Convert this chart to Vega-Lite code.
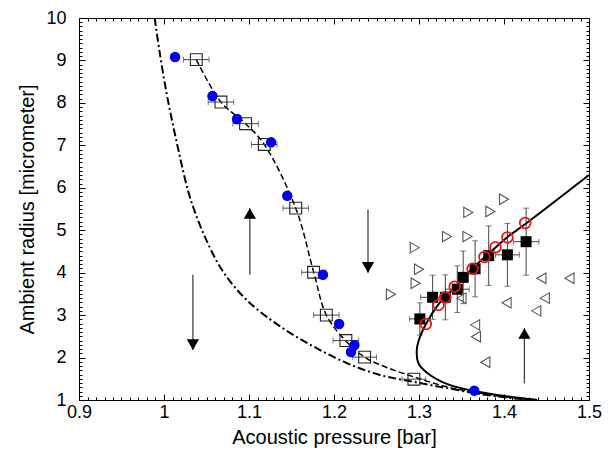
{
  "$schema": "https://vega.github.io/schema/vega-lite/v6.json",
  "width": 510,
  "height": 382,
  "autosize": "none",
  "padding": {"left": 79, "top": 18, "right": 25, "bottom": 55},
  "background": "white",
  "config": {
    "font": "Liberation Sans",
    "view": {"stroke": "black", "strokeWidth": 1},
    "axis": {"labelColor": "black", "titleColor": "black", "tickColor": "black", "grid": false, "domain": false, "labelFlush": false, "labelOverlap": false, "titleFontWeight": "normal", "labelFont": "Liberation Sans", "titleFont": "Liberation Sans"}
  },
  "datasets": {
    "dashdot": [
      {"i": 0, "x": 0.989, "y": 10.0}, {"i": 1, "x": 0.995, "y": 9.18}, {"i": 2, "x": 1.003, "y": 8.23},
      {"i": 3, "x": 1.011, "y": 7.44}, {"i": 4, "x": 1.0195, "y": 6.66}, {"i": 5, "x": 1.028, "y": 5.95},
      {"i": 6, "x": 1.036, "y": 5.45}, {"i": 7, "x": 1.048, "y": 4.85}, {"i": 8, "x": 1.068, "y": 4.07},
      {"i": 9, "x": 1.097, "y": 3.36}, {"i": 10, "x": 1.137, "y": 2.73}, {"i": 11, "x": 1.176, "y": 2.26},
      {"i": 12, "x": 1.215, "y": 1.87}, {"i": 13, "x": 1.254, "y": 1.59}, {"i": 14, "x": 1.293, "y": 1.43},
      {"i": 15, "x": 1.333, "y": 1.28}, {"i": 16, "x": 1.372, "y": 1.14}, {"i": 17, "x": 1.411, "y": 1.04},
      {"i": 18, "x": 1.439, "y": 1.0}
    ],
    "dashed": [
      {"i": 0, "x": 1.038, "y": 9.02}, {"i": 1, "x": 1.067, "y": 8.02}, {"i": 2, "x": 1.096, "y": 7.51},
      {"i": 3, "x": 1.118, "y": 7.02}, {"i": 4, "x": 1.155, "y": 5.52}, {"i": 5, "x": 1.176, "y": 4.02},
      {"i": 6, "x": 1.191, "y": 3.0}, {"i": 7, "x": 1.213, "y": 2.41}, {"i": 8, "x": 1.235, "y": 2.02},
      {"i": 9, "x": 1.254, "y": 1.83}, {"i": 10, "x": 1.293, "y": 1.55}, {"i": 11, "x": 1.333, "y": 1.31},
      {"i": 12, "x": 1.372, "y": 1.16}, {"i": 13, "x": 1.411, "y": 1.05}, {"i": 14, "x": 1.439, "y": 1.0}
    ],
    "solid": [
      {"i": 0, "x": 1.5, "y": 6.3}, {"i": 1, "x": 1.4267, "y": 5.17}, {"i": 2, "x": 1.4035, "y": 4.83},
      {"i": 3, "x": 1.3894, "y": 4.58}, {"i": 4, "x": 1.3635, "y": 4.11}, {"i": 5, "x": 1.3424, "y": 3.66},
      {"i": 6, "x": 1.3306, "y": 3.43}, {"i": 7, "x": 1.3224, "y": 3.24}, {"i": 8, "x": 1.309, "y": 2.82},
      {"i": 9, "x": 1.3012, "y": 2.49}, {"i": 10, "x": 1.2975, "y": 2.2}, {"i": 11, "x": 1.2992, "y": 1.87},
      {"i": 12, "x": 1.309, "y": 1.65}, {"i": 13, "x": 1.3326, "y": 1.38}, {"i": 14, "x": 1.3647, "y": 1.21},
      {"i": 15, "x": 1.3914, "y": 1.12}, {"i": 16, "x": 1.4385, "y": 1.0}
    ],
    "blue": [
      {"x": 1.013, "y": 9.08}, {"x": 1.057, "y": 8.16}, {"x": 1.086, "y": 7.62}, {"x": 1.126, "y": 7.07},
      {"x": 1.145, "y": 5.81}, {"x": 1.187, "y": 3.95}, {"x": 1.206, "y": 2.79}, {"x": 1.224, "y": 2.29},
      {"x": 1.22, "y": 2.13}, {"x": 1.365, "y": 1.22}
    ],
    "opensq": [
      {"x": 1.038, "y": 9.02, "xerr": 0.015}, {"x": 1.067, "y": 8.02, "xerr": 0.015}, {"x": 1.096, "y": 7.51, "xerr": 0.015},
      {"x": 1.118, "y": 7.02, "xerr": 0.015}, {"x": 1.155, "y": 5.52, "xerr": 0.015}, {"x": 1.176, "y": 4.01, "xerr": 0.014},
      {"x": 1.191, "y": 3.0, "xerr": 0.015}, {"x": 1.214, "y": 2.4, "xerr": 0.015}, {"x": 1.236, "y": 2.01, "xerr": 0.014},
      {"x": 1.294, "y": 1.49, "xerr": 0.014}
    ],
    "blacksq": [
      {"x": 1.301, "y": 2.91, "xerr": 0.012, "yerr": 0.38}, {"x": 1.316, "y": 3.42, "xerr": 0.014, "yerr": 0.52},
      {"x": 1.331, "y": 3.42, "xerr": 0, "yerr": 0.53}, {"x": 1.345, "y": 3.61, "xerr": 0.014, "yerr": 0.55},
      {"x": 1.352, "y": 3.89, "xerr": 0, "yerr": 0.62}, {"x": 1.366, "y": 4.09, "xerr": 0, "yerr": 0.66},
      {"x": 1.382, "y": 4.4, "xerr": 0, "yerr": 0.7}, {"x": 1.404, "y": 4.42, "xerr": 0.014, "yerr": 0.74},
      {"x": 1.426, "y": 4.73, "xerr": 0.015, "yerr": 0.79}
    ],
    "red": [
      {"x": 1.308, "y": 2.79}, {"x": 1.323, "y": 3.24}, {"x": 1.331, "y": 3.42}, {"x": 1.342, "y": 3.67},
      {"x": 1.363, "y": 4.09}, {"x": 1.377, "y": 4.37}, {"x": 1.39, "y": 4.6}, {"x": 1.404, "y": 4.83},
      {"x": 1.425, "y": 5.17}
    ],
    "triR": [
      {"x": 1.4, "y": 5.73}, {"x": 1.358, "y": 5.42}, {"x": 1.384, "y": 5.44}, {"x": 1.333, "y": 4.85},
      {"x": 1.357, "y": 4.85}, {"x": 1.295, "y": 4.59}, {"x": 1.3, "y": 4.08}, {"x": 1.296, "y": 3.75},
      {"x": 1.267, "y": 3.49}
    ],
    "triL": [
      {"x": 1.444, "y": 3.87}, {"x": 1.477, "y": 3.87}, {"x": 1.448, "y": 3.4}, {"x": 1.403, "y": 3.29},
      {"x": 1.438, "y": 3.1}, {"x": 1.35, "y": 3.4}, {"x": 1.366, "y": 2.77}, {"x": 1.367, "y": 2.49},
      {"x": 1.378, "y": 1.89}
    ],
    "arrows": [
      {"x": 1.034, "ytail": 3.95, "ytip": 2.18, "dir": "down"},
      {"x": 1.101, "ytail": 3.95, "ytip": 5.52, "dir": "up"},
      {"x": 1.24, "ytail": 5.49, "ytip": 4.0, "dir": "down"},
      {"x": 1.424, "ytail": 1.39, "ytip": 2.69, "dir": "up"}
    ]
  },
  "resolve": {"axis": {"x": "independent", "y": "independent"}},
  "layer": [
    {
      "data": {"name": "dashdot"},
      "mark": {"type": "line", "color": "black", "strokeWidth": 2, "strokeDash": [8, 3, 2, 3], "interpolate": "catmull-rom", "clip": true},
      "encoding": {
        "x": {"field": "x", "type": "quantitative", "scale": {"domain": [0.9, 1.5], "nice": false, "zero": false},
          "axis": {"orient": "bottom", "values": [0.9, 1, 1.1, 1.2, 1.3, 1.4, 1.5], "format": "~g", "offset": -6, "tickSize": 6, "labelFontSize": 18, "labelPadding": 3, "title": "Acoustic pressure [bar]", "titleFontSize": 20, "titlePadding": 6}},
        "y": {"field": "y", "type": "quantitative", "scale": {"domain": [1, 10], "nice": false, "zero": false},
          "axis": {"orient": "left", "values": [1, 2, 3, 4, 5, 6, 7, 8, 9, 10], "format": "d", "offset": -6, "tickSize": 6, "labelFontSize": 18, "labelPadding": 13, "title": "Ambient radius [micrometer]", "titleFontSize": 20, "titlePadding": 8}},
        "order": {"field": "i"}
      }
    },
    {
      "data": {"name": "dashed"},
      "mark": {"type": "line", "color": "black", "strokeWidth": 1.5, "strokeDash": [6, 3], "interpolate": "catmull-rom", "clip": true},
      "encoding": {
        "x": {"field": "x", "type": "quantitative", "scale": {"domain": [0.9, 1.5], "nice": false, "zero": false},
          "axis": {"orient": "bottom", "tickCount": 60, "offset": -3, "tickSize": 3, "labels": false, "title": null}},
        "y": {"field": "y", "type": "quantitative", "scale": {"domain": [1, 10], "nice": false, "zero": false},
          "axis": {"orient": "left", "tickCount": 90, "offset": -3, "tickSize": 3, "labels": false, "title": null}},
        "order": {"field": "i"}
      }
    },
    {
      "data": {"name": "opensq"},
      "mark": {"type": "errorbar", "ticks": true, "size": 6, "thickness": 1, "color": "#444"},
      "encoding": {
        "x": {"field": "x", "type": "quantitative", "scale": {"domain": [0.9, 1.5], "nice": false, "zero": false}, "axis": null},
        "xError": {"field": "xerr"},
        "y": {"field": "y", "type": "quantitative", "scale": {"domain": [1, 10], "nice": false, "zero": false}, "axis": null}
      }
    },
    {
      "data": {"name": "opensq"},
      "mark": {"type": "point", "shape": "square", "size": 140, "filled": false, "stroke": "#222", "strokeWidth": 1.1, "opacity": 1},
      "encoding": {
        "x": {"field": "x", "type": "quantitative", "scale": {"domain": [0.9, 1.5], "nice": false, "zero": false}, "axis": null},
        "y": {"field": "y", "type": "quantitative", "scale": {"domain": [1, 10], "nice": false, "zero": false}, "axis": null}
      }
    },
    {
      "data": {"name": "blacksq"},
      "mark": {"type": "errorbar", "ticks": true, "size": 6, "thickness": 1, "color": "#444"},
      "encoding": {
        "x": {"field": "x", "type": "quantitative", "scale": {"domain": [0.9, 1.5], "nice": false, "zero": false}, "axis": null},
        "y": {"field": "y", "type": "quantitative", "scale": {"domain": [1, 10], "nice": false, "zero": false}, "axis": null},
        "yError": {"field": "yerr"}
      }
    },
    {
      "data": {"name": "blacksq"},
      "transform": [{"filter": "datum.xerr > 0"}],
      "mark": {"type": "errorbar", "ticks": true, "size": 6, "thickness": 1, "color": "#444"},
      "encoding": {
        "x": {"field": "x", "type": "quantitative", "scale": {"domain": [0.9, 1.5], "nice": false, "zero": false}, "axis": null},
        "xError": {"field": "xerr"},
        "y": {"field": "y", "type": "quantitative", "scale": {"domain": [1, 10], "nice": false, "zero": false}, "axis": null}
      }
    },
    {
      "data": {"name": "blacksq"},
      "mark": {"type": "point", "shape": "square", "size": 121, "filled": true, "color": "black", "opacity": 1},
      "encoding": {
        "x": {"field": "x", "type": "quantitative", "scale": {"domain": [0.9, 1.5], "nice": false, "zero": false}, "axis": null},
        "y": {"field": "y", "type": "quantitative", "scale": {"domain": [1, 10], "nice": false, "zero": false}, "axis": null}
      }
    },
    {
      "data": {"name": "solid"},
      "mark": {"type": "line", "color": "black", "strokeWidth": 2, "interpolate": "catmull-rom", "clip": true},
      "encoding": {
        "x": {"field": "x", "type": "quantitative", "scale": {"domain": [0.9, 1.5], "nice": false, "zero": false},
          "axis": {"orient": "top", "values": [0.9, 1, 1.1, 1.2, 1.3, 1.4, 1.5], "offset": -6, "tickSize": 6, "labels": false, "title": null}},
        "y": {"field": "y", "type": "quantitative", "scale": {"domain": [1, 10], "nice": false, "zero": false},
          "axis": {"orient": "right", "values": [1, 2, 3, 4, 5, 6, 7, 8, 9, 10], "offset": -6, "tickSize": 6, "labels": false, "title": null}},
        "order": {"field": "i"}
      }
    },
    {
      "data": {"name": "red"},
      "mark": {"type": "point", "shape": "circle", "size": 115, "filled": false, "stroke": "#e81818", "strokeWidth": 1.8, "opacity": 1},
      "encoding": {
        "x": {"field": "x", "type": "quantitative", "scale": {"domain": [0.9, 1.5], "nice": false, "zero": false},
          "axis": {"orient": "top", "tickCount": 60, "offset": -3, "tickSize": 3, "labels": false, "title": null}},
        "y": {"field": "y", "type": "quantitative", "scale": {"domain": [1, 10], "nice": false, "zero": false},
          "axis": {"orient": "right", "tickCount": 90, "offset": -3, "tickSize": 3, "labels": false, "title": null}}
      }
    },
    {
      "data": {"name": "blue"},
      "mark": {"type": "point", "shape": "circle", "size": 110, "filled": true, "color": "#0000ee", "opacity": 1},
      "encoding": {
        "x": {"field": "x", "type": "quantitative", "scale": {"domain": [0.9, 1.5], "nice": false, "zero": false}, "axis": null},
        "y": {"field": "y", "type": "quantitative", "scale": {"domain": [1, 10], "nice": false, "zero": false}, "axis": null}
      }
    },
    {
      "data": {"name": "triR"},
      "mark": {"type": "point", "shape": "triangle-right", "size": 110, "filled": false, "stroke": "#555", "strokeWidth": 1.1, "opacity": 1},
      "encoding": {
        "x": {"field": "x", "type": "quantitative", "scale": {"domain": [0.9, 1.5], "nice": false, "zero": false}, "axis": null},
        "y": {"field": "y", "type": "quantitative", "scale": {"domain": [1, 10], "nice": false, "zero": false}, "axis": null}
      }
    },
    {
      "data": {"name": "triL"},
      "mark": {"type": "point", "shape": "triangle-left", "size": 110, "filled": false, "stroke": "#555", "strokeWidth": 1.1, "opacity": 1},
      "encoding": {
        "x": {"field": "x", "type": "quantitative", "scale": {"domain": [0.9, 1.5], "nice": false, "zero": false}, "axis": null},
        "y": {"field": "y", "type": "quantitative", "scale": {"domain": [1, 10], "nice": false, "zero": false}, "axis": null}
      }
    },
    {
      "data": {"name": "arrows"},
      "mark": {"type": "rule", "color": "#444", "strokeWidth": 1.3},
      "encoding": {
        "x": {"field": "x", "type": "quantitative", "scale": {"domain": [0.9, 1.5], "nice": false, "zero": false}, "axis": null},
        "y": {"field": "ytail", "type": "quantitative", "scale": {"domain": [1, 10], "nice": false, "zero": false}, "axis": null},
        "y2": {"field": "ytip"}
      }
    },
    {
      "data": {"name": "arrows"},
      "transform": [{"filter": "datum.dir === 'down'"}],
      "mark": {"type": "point", "shape": "triangle-down", "size": 150, "filled": true, "color": "black", "opacity": 1, "yOffset": -5.3},
      "encoding": {
        "x": {"field": "x", "type": "quantitative", "scale": {"domain": [0.9, 1.5], "nice": false, "zero": false}, "axis": null},
        "y": {"field": "ytip", "type": "quantitative", "scale": {"domain": [1, 10], "nice": false, "zero": false}, "axis": null}
      }
    },
    {
      "data": {"name": "arrows"},
      "transform": [{"filter": "datum.dir === 'up'"}],
      "mark": {"type": "point", "shape": "triangle-up", "size": 150, "filled": true, "color": "black", "opacity": 1, "yOffset": 5.3},
      "encoding": {
        "x": {"field": "x", "type": "quantitative", "scale": {"domain": [0.9, 1.5], "nice": false, "zero": false}, "axis": null},
        "y": {"field": "ytip", "type": "quantitative", "scale": {"domain": [1, 10], "nice": false, "zero": false}, "axis": null}
      }
    }
  ]
}
